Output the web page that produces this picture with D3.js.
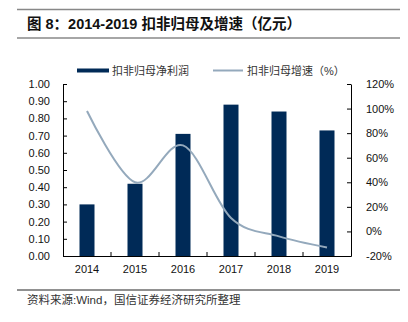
<!DOCTYPE html>
<html><head><meta charset="utf-8">
<script src="https://cdn.jsdelivr.net/npm/d3@7"></script>
<style>body{margin:0;background:#fff}svg{display:block}</style>
</head><body><svg id="c" width="408" height="322"></svg>
<script>
const years = ["2014","2015","2016","2017","2018","2019"];
const profit = [0.30, 0.42, 0.71, 0.88, 0.84, 0.73];
const growth = [98, 40, 70, 11, -4, -13];
const leftTicks = [0,0.1,0.2,0.3,0.4,0.5,0.6,0.7,0.8,0.9,1.0];
const rightTicks = [-20,0,20,40,60,80,100,120];
const titleText = "图 8：2014-2019 扣非归母及增速（亿元）";
const sourceText = "资料来源:Wind，国信证券经济研究所整理";
const legendNames = ["扣非归母净利润", "扣非归母增速（%）"];

const svg = d3.select("#c");
const L = 63, R = 351, T = 84, B = 256;
const x = d3.scaleBand().domain(years).range([L, R]);
const yL = d3.scaleLinear().domain([0, 1]).range([B, T]);
const yR = d3.scaleLinear().domain([-20, 120]).range([B, T]);
const barColor = "#002a57", lineColor = "#94a9bc";
const cjk = "'Liberation Sans', 'Noto Sans CJK SC', sans-serif";
const lat = "'Liberation Sans', Arial, sans-serif";

// title rules
svg.append("line").attr("x1",17).attr("x2",400).attr("y1",9.5).attr("y2",9.5).attr("stroke","#888").attr("stroke-width",1.5);
svg.append("line").attr("x1",17).attr("x2",400).attr("y1",38).attr("y2",38).attr("stroke","#888").attr("stroke-width",1.5);
svg.append("text").attr("x",27).attr("y",29).attr("font-family",cjk).attr("font-weight","bold")
  .attr("font-size",14.5).attr("fill","#111").text(titleText);

// bars
const bw = 15;
svg.append("g").selectAll("rect").data(years).join("rect")
  .attr("x", d => x(d) + x.bandwidth()/2 - bw/2)
  .attr("width", bw)
  .attr("y", (d,i) => yL(profit[i]))
  .attr("height", (d,i) => yL(0) - yL(profit[i]))
  .attr("fill", barColor);

// line
const line = d3.line()
  .x((d,i) => x(years[i]) + x.bandwidth()/2)
  .y(d => yR(d))
  .curve(d3.curveCardinal.tension(0));
svg.append("path").datum(growth).attr("d", line).attr("fill","none")
  .attr("stroke", lineColor).attr("stroke-width", 2);

// axes
const axL = d3.axisLeft(yL).tickValues(leftTicks).tickFormat(d3.format(".2f")).tickSizeInner(-4).tickSizeOuter(0).tickPadding(13);
const gL = svg.append("g").attr("transform",`translate(${L},0)`).call(axL);
const axR = d3.axisRight(yR).tickValues(rightTicks).tickFormat(d => d + "%").tickSizeInner(-4).tickSizeOuter(0).tickPadding(15);
const gR = svg.append("g").attr("transform",`translate(${R},0)`).call(axR);
const axB = d3.axisBottom(x).tickSize(0).tickPadding(9);
const gB = svg.append("g").attr("transform",`translate(0,${B})`).call(axB);
// x tick marks at band boundaries
svg.append("g").selectAll("line").data(years.slice(1)).join("line")
  .attr("x1", d => x(d)).attr("x2", d => x(d)).attr("y1", B).attr("y2", B-4)
  .attr("stroke","#000");
[gL,gR,gB].forEach(g => {
  g.selectAll("path,line").attr("stroke","#000");
  g.selectAll("text").attr("font-family",lat).attr("font-size",11).attr("fill","#111");
});

// legend
svg.append("rect").attr("x",77).attr("y",68.5).attr("width",32).attr("height",4).attr("fill",barColor);
svg.append("text").attr("x",112).attr("y",74.5).attr("font-family",cjk).attr("font-size",11).attr("fill","#333").text(legendNames[0]);
svg.append("line").attr("x1",213).attr("x2",243).attr("y1",70.5).attr("y2",70.5).attr("stroke",lineColor).attr("stroke-width",2);
svg.append("text").attr("x",247).attr("y",74.5).attr("font-family",cjk).attr("font-size",11).attr("fill","#333").text(legendNames[1]);

// footer
svg.append("line").attr("x1",17).attr("x2",400).attr("y1",290).attr("y2",290).attr("stroke","#222").attr("stroke-width",1);
svg.append("text").attr("x",27).attr("y",304).attr("font-family",cjk).attr("font-size",11.5).attr("fill","#333").text(sourceText);
</script></body></html>
